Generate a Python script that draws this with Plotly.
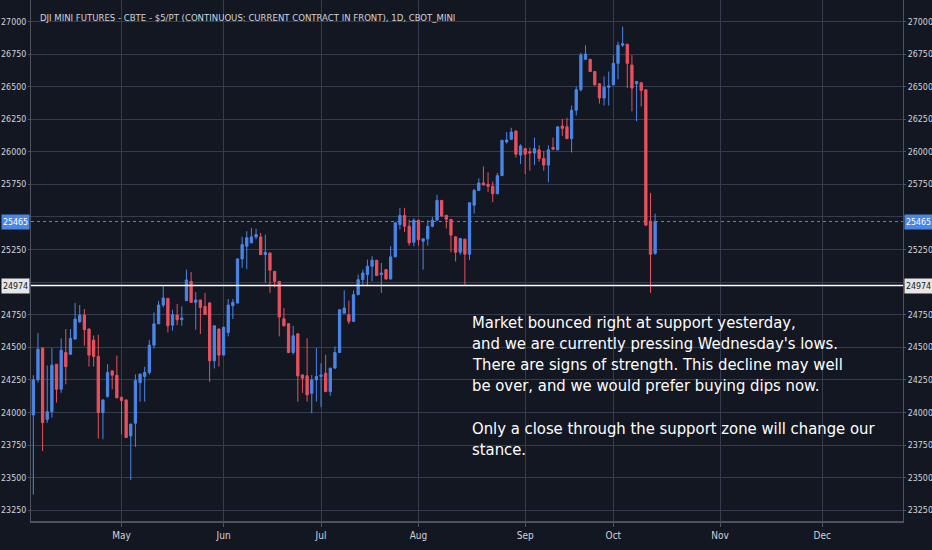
"""
DJI mini futures daily candles, TradingView-style dark chart
"""

import pandas as pd
import plotly.graph_objects as go

# Trading days shown (CBOT session calendar, Apr 4 - Oct 12 2018)
HOLIDAYS = ["2018-05-28", "2018-07-04", "2018-09-03"]
dates = [d for d in pd.bdate_range("2018-04-04", "2018-10-12")
         if d.strftime("%Y-%m-%d") not in HOLIDAYS]

opens = [
    23981, 24250, 24494, 23947, 24006, 24370, 24178, 24460, 24447, 24563,
    24696, 24747, 24640, 24555, 24430, 23999, 24122, 24319, 24286, 24117,
    24096, 23820, 23917, 24229, 24276, 24306, 24516, 24680, 24824, 24875,
    24670, 24747, 24712, 24858, 25006, 24845, 24863, 24814, 24840, 24396,
    24640, 24440, 24614, 24819, 24840, 25178, 25276, 25301, 25347, 25347,
    25211, 25224, 25083, 25006, 24719, 24681, 24460, 24604, 24288, 24281,
    24147, 24250, 24276, 24301, 24160, 24340, 24460, 24762, 24750, 24699,
    24904, 25019, 25058, 25122, 25168, 25058, 25096, 25024, 25194, 25442,
    25511, 25429, 25306, 25475, 25314, 25332, 25429, 25475, 25627, 25513,
    25482, 25348, 25229, 25330, 25214, 25590, 25703, 25761, 25751, 25736,
    25678, 25817, 26075, 26096, 26160, 25975, 26025, 26000, 25990, 26015,
    25949, 25898, 26033, 26015, 26198, 26192, 26101, 26319, 26476, 26710,
    26710, 26616, 26522, 26413, 26496, 26514, 26679, 26818, 26826, 26666,
    26522, 26530, 26476, 25467, 25220,
]
highs = [
    24286, 24609, 24500, 24360, 24494, 24372, 24568, 24640, 24640, 24840,
    24824, 24794, 24645, 24590, 24596, 24100, 24370, 24322, 24437, 24120,
    24100, 23915, 24292, 24298, 24350, 24555, 24768, 24855, 24978, 24880,
    24788, 24832, 24814, 25096, 25078, 24924, 24866, 24917, 24845, 24670,
    24645, 24660, 24870, 24870, 25184, 25347, 25391, 25416, 25409, 25378,
    25365, 25226, 25085, 25008, 24801, 24685, 24665, 24606, 24290, 24570,
    24288, 24494, 24378, 24442, 24342, 24506, 24790, 24937, 24858, 24937,
    25058, 25096, 25173, 25199, 25170, 25147, 25098, 25276, 25457, 25570,
    25570, 25480, 25490, 25477, 25332, 25475, 25500, 25670, 25629, 25515,
    25484, 25350, 25335, 25332, 25609, 25716, 25797, 25888, 25842, 25772,
    25837, 26091, 26152, 26185, 26162, 26058, 26027, 26033, 26109, 26050,
    26007, 26050, 26109, 26192, 26253, 26261, 26355, 26502, 26760, 26818,
    26712, 26618, 26524, 26578, 26616, 26742, 26845, 26960, 26828, 26742,
    26540, 26532, 26478, 25685, 25526,
]
lows = [
    23370, 24230, 23704, 23920, 23960, 24076, 24150, 24216, 24440, 24560,
    24686, 24512, 24352, 24352, 23799, 23794, 24115, 24178, 24110, 23832,
    23805, 23481, 23735, 24083, 24083, 24290, 24490, 24678, 24806, 24614,
    24628, 24670, 24665, 24855, 24843, 24635, 24602, 24750, 24235, 24337,
    24352, 24438, 24583, 24717, 24835, 25109, 25100, 25300, 25330, 25211,
    24994, 24917, 24960, 24583, 24660, 24455, 24445, 24083, 24150, 24083,
    23994, 24083, 24040, 24155, 24128, 24338, 24455, 24760, 24678, 24697,
    24902, 24980, 24968, 25006, 25050, 24917, 25019, 25022, 25192, 25404,
    25385, 25280, 25275, 25280, 25096, 25280, 25420, 25473, 25500, 25411,
    25229, 25158, 25210, 24981, 25170, 25526, 25700, 25740, 25690, 25614,
    25676, 25815, 26064, 26094, 25957, 25906, 25830, 25855, 25898, 25924,
    25855, 25766, 26013, 26013, 26122, 26101, 25995, 26279, 26463, 26708,
    26616, 26508, 26370, 26355, 26355, 26512, 26557, 26805, 26489, 26311,
    26235, 26349, 25437, 24917, 25210,
]
closes = [
    24250, 24486, 23922, 24006, 24363, 24178, 24478, 24352, 24568, 24717,
    24747, 24635, 24440, 24430, 23999, 24096, 24306, 24286, 24112, 24091,
    23807, 23910, 24245, 24294, 24306, 24516, 24680, 24824, 24878, 24665,
    24750, 24712, 24724, 25017, 24845, 24863, 24806, 24752, 24396, 24665,
    24440, 24653, 24824, 24845, 25178, 25288, 25340, 25347, 25365, 25211,
    25229, 25091, 25006, 24732, 24665, 24460, 24588, 24281, 24263, 24135,
    24250, 24276, 24288, 24160, 24340, 24460, 24788, 24801, 24699, 24904,
    25019, 25070, 25122, 25168, 25050, 25070, 25024, 25194, 25455, 25511,
    25429, 25301, 25475, 25326, 25332, 25429, 25475, 25627, 25508, 25482,
    25361, 25229, 25335, 25214, 25609, 25703, 25761, 25746, 25736, 25678,
    25817, 26089, 26091, 26152, 25982, 26045, 25982, 25990, 26025, 25949,
    25898, 26015, 26020, 26192, 26180, 26101, 26319, 26476, 26742, 26750,
    26616, 26514, 26413, 26496, 26506, 26679, 26818, 26830, 26679, 26489,
    26540, 26471, 25437, 25214, 25465,
]

LAST_PRICE = 25465
SUPPORT = 24974

y_ticks = list(range(23250, 27001, 250))
# 25000 and 25500 sit under the price boxes, so their labels stay blank
y_labels = ["" if v in (25000, 25500) else str(v) for v in y_ticks]
month_ticks = ["2018-05-01", "2018-06-01", "2018-07-02", "2018-08-01",
               "2018-09-04", "2018-10-01", "2018-11-01", "2018-12-03"]
month_labels = ["May", "Jun", "Jul", "Aug", "Sep", "Oct", "Nov", "Dec"]

title_text = ("DJI MINI FUTURES - CBTE - $5/PT (CONTINUOUS: CURRENT CONTRACT "
              "IN FRONT), 1D, CBOT_MINI")
note_lines = [
    "Market bounced right at support yesterday,",
    "and we are currently pressing Wednesday's lows.",
    "There are signs of strength. This decline may well",
    "be over, and we would prefer buying dips now.",
    "",
    "Only a close through the support zone will change our",
    "stance.",
]

BG = "#131722"
GRID = "#363c4e"
AXIS = "#4c525e"
TEXT = "#d1d4dc"
UP = "#4a86e8"
DOWN = "#e8515d"
FONT = "DejaVu Sans Condensed, DejaVu Sans, sans-serif"

W, H = 932, 550
M_L, M_R, M_T, M_B = 31, 29, 0, 29
PLOT_W = W - M_L - M_R
PLOT_H = H - M_T - M_B

fig = go.Figure()

fig.add_trace(
    go.Candlestick(
        x=dates,
        open=opens,
        high=highs,
        low=lows,
        close=closes,
        increasing=dict(line=dict(color=UP, width=1), fillcolor=UP),
        decreasing=dict(line=dict(color=DOWN, width=1), fillcolor=DOWN),
        whiskerwidth=0,
        showlegend=False,
        hoverinfo="skip",
    )
)

# invisible trace so the right-hand price scale gets drawn
fig.add_trace(
    go.Scatter(
        x=[dates[-1]],
        y=[closes[-1]],
        yaxis="y2",
        mode="markers",
        marker=dict(opacity=0),
        showlegend=False,
        hoverinfo="skip",
    )
)

y_range = [23167, 27165]

axis_font = dict(family=FONT, size=8.8, color=TEXT)

fig.update_layout(
    width=W,
    height=H,
    margin=dict(l=M_L, r=M_R, t=M_T, b=M_B),
    paper_bgcolor=BG,
    plot_bgcolor=BG,
    font=dict(family=FONT, color=TEXT),
    showlegend=False,
    xaxis=dict(
        rangeslider=dict(visible=False),
        range=["2018-04-03 12:00", "2018-12-26 10:00"],
        rangebreaks=[dict(bounds=["sat", "mon"]), dict(values=HOLIDAYS)],
        tickvals=month_ticks,
        ticktext=month_labels,
        tickfont=dict(family=FONT, size=10, color=TEXT),
        ticks="outside",
        ticklen=4,
        tickcolor=AXIS,
        showgrid=True,
        gridcolor=GRID,
        gridwidth=1,
        showline=True,
        linecolor=AXIS,
        linewidth=2,
        zeroline=False,
        automargin=False,
    ),
    yaxis=dict(
        range=y_range,
        tickvals=y_ticks,
        ticktext=y_labels,
        tickfont=axis_font,
        ticks="outside",
        ticklen=2,
        tickcolor=AXIS,
        showgrid=True,
        gridcolor=GRID,
        gridwidth=1,
        showline=True,
        linecolor=AXIS,
        linewidth=1,
        zeroline=False,
        automargin=False,
    ),
    yaxis2=dict(
        range=y_range,
        overlaying="y",
        side="right",
        tickvals=y_ticks,
        ticktext=y_labels,
        tickfont=axis_font,
        ticks="outside",
        ticklen=2,
        tickcolor=AXIS,
        showgrid=False,
        showline=True,
        linecolor=AXIS,
        linewidth=1,
        zeroline=False,
        automargin=False,
    ),
)

# last price (dotted blue) and support level (solid white)
fig.add_shape(type="line", xref="paper", x0=0, x1=1, yref="y",
              y0=LAST_PRICE, y1=LAST_PRICE,
              line=dict(color=UP, width=1, dash="dot"))
fig.add_shape(type="line", xref="paper", x0=0, x1=1, yref="y",
              y0=SUPPORT, y1=SUPPORT,
              line=dict(color="#ffffff", width=1.5))

# price boxes on both scales
for xpos, anchor in [(0, "right"), (1, "left")]:
    fig.add_annotation(x=xpos, xref="paper", xanchor=anchor,
                       y=LAST_PRICE, yref="y", text=str(LAST_PRICE),
                       showarrow=False, bgcolor=UP, width=27, height=14,
                       borderpad=0, xshift=-1 if anchor == "right" else 1,
                       font=dict(family=FONT, size=8.8, color="#ffffff"))
    fig.add_annotation(x=xpos, xref="paper", xanchor=anchor,
                       y=SUPPORT, yref="y", text=str(SUPPORT),
                       showarrow=False, bgcolor="#e6e6e6", width=27, height=14,
                       borderpad=0, xshift=-1 if anchor == "right" else 1,
                       font=dict(family=FONT, size=8.8, color="#131722"))

# chart title
fig.add_annotation(x=7 / PLOT_W, xref="paper", xanchor="left",
                   y=1 - 17 / PLOT_H, yref="paper", yanchor="middle",
                   text=title_text, showarrow=False,
                   font=dict(family=FONT, size=9.5, color=TEXT))

# commentary text block
line_y = [322, 343, 364, 385, 406, 428, 449]
for txt, py in zip(note_lines, line_y):
    if not txt:
        continue
    fig.add_annotation(x=(470 - M_L) / PLOT_W, xref="paper",
                       xanchor="left", y=1 - py / PLOT_H, yref="paper",
                       yanchor="middle", text=txt, showarrow=False,
                       font=dict(family=FONT, size=16.5, color="#ffffff"))

# drop the default page margin so the figure sits flush in the window
fig.write_html("out.html", config={"displayModeBar": False},
               post_script="document.body.style.margin = '0';")
